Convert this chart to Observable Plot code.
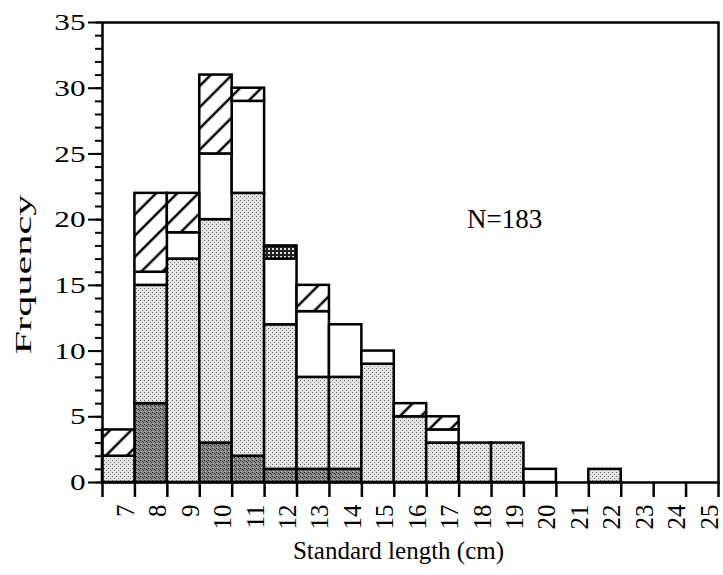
<!DOCTYPE html>
<html>
<head>
<meta charset="utf-8">
<script src="https://cdn.jsdelivr.net/npm/d3@7"></script>
<script src="https://cdn.jsdelivr.net/npm/@observablehq/plot@0.6"></script>
<style>
  html, body { margin: 0; padding: 0; background: #fff; }
  g[aria-label="y-axis tick label"] text { font-size: 24px; }
</style>
</head>
<body>
<div id="chart"></div>
<script>
// Bin lower edges (cm); each bin is 1 cm wide
const binStart = [6, 7, 8, 9, 10, 11, 12, 13, 14, 15, 16, 17, 18, 19, 20, 21];
// Stacked series (bottom to top)
const darkGray    = [0, 6, 0, 3, 2, 1, 1, 1, 0, 0, 0, 0, 0, 0, 0, 0];
const stippled    = [2, 9, 17, 17, 20, 11, 7, 7, 9, 5, 3, 3, 3, 0, 0, 1];
const plainWhite  = [0, 1, 2, 5, 7, 5, 5, 4, 1, 0, 1, 0, 0, 1, 0, 0];
const hatched     = [2, 6, 3, 6, 1, 0, 2, 0, 0, 1, 1, 0, 0, 0, 0, 0];
const crossHatch  = [0, 0, 0, 0, 0, 1, 0, 0, 0, 0, 0, 0, 0, 0, 0, 0];
// Axis ticks and labels
const xTicks = d3.range(6, 26);
const xTickLabels = [7, 8, 9, 10, 11, 12, 13, 14, 15, 16, 17, 18, 19, 20, 21, 22, 23, 24, 25];
const yMajorTicks = [0, 5, 10, 15, 20, 25, 30, 35];
const yMinorTicks = d3.range(0, 36);
const xLabel = "Standard length (cm)";
const yLabel = "Frquency";
const annotation = "N=183";

const layers = [
  {values: darkGray, fill: "url(#pDark)"},
  {values: stippled, fill: "url(#pStipple)"},
  {values: plainWhite, fill: "white"},
  {values: hatched, fill: "url(#pHatch)"},
  {values: crossHatch, fill: "url(#pCross)"}
];

const cum = binStart.map(() => 0);
const layerRows = layers.map(layer => {
  const rows = [];
  binStart.forEach((b, i) => {
    const v = layer.values[i];
    if (v > 0) rows.push({x1: b, x2: b + 1, y1: cum[i], y2: cum[i] + v});
    cum[i] += v;
  });
  return rows;
});

const chart = Plot.plot({
  width: 723,
  height: 575,
  marginLeft: 102,
  marginRight: 5,
  marginTop: 22,
  marginBottom: 93,
  x: {domain: [6, 25]},
  y: {domain: [0, 35]},
  style: {fontFamily: "'Liberation Serif', 'Times New Roman', serif", fontSize: "24px", color: "black", background: "white"},
  marks: [
    ...layers.map((layer, k) => Plot.rect(layerRows[k], {
      x1: "x1", x2: "x2", y1: "y1", y2: "y2",
      fill: layer.fill, stroke: "black", strokeWidth: 2.5
    })),
    Plot.frame({stroke: "black", strokeWidth: 2.5}),
    Plot.axisY({ticks: yMinorTicks, tickSize: 7, tickFormat: () => "", label: null, strokeWidth: 2, ariaLabel: "y-axis minor"}),
    Plot.axisY({ticks: yMajorTicks, tickSize: 14, tickPadding: 3, label: null, strokeWidth: 2}),
    Plot.axisX({ticks: xTicks, tickSize: 15, tickFormat: () => "", label: null, strokeWidth: 2.5}),
    Plot.text(xTickLabels, {x: d => d, y: 0, text: d => String(d), rotate: -90, textAnchor: "end", lineAnchor: "middle", dx: -9, dy: 22, fontSize: 25}),
    Plot.text([xLabel], {frameAnchor: "bottom", text: d => d, textAnchor: "middle", dx: -12, dy: 76, fontSize: 25}),
    Plot.text([yLabel], {frameAnchor: "left", text: d => d, rotate: -90, textAnchor: "middle", dx: -79, dy: 22, fontSize: 23}),
    Plot.text([annotation], {x: [18.4], y: [20], text: () => annotation, fontSize: 27})
  ]
});

const svg = chart.tagName.toLowerCase() === "svg" ? chart : chart.querySelector("svg");
const ns = "http://www.w3.org/2000/svg";
const defs = document.createElementNS(ns, "defs");
defs.innerHTML = `
  <pattern id="pStipple" patternUnits="userSpaceOnUse" width="4" height="4">
    <rect width="4" height="4" fill="#e4e4e4"/>
    <rect x="0" y="0" width="1" height="1" fill="#666"/>
    <rect x="2" y="2" width="1" height="1" fill="#888"/>
  </pattern>
  <pattern id="pDark" patternUnits="userSpaceOnUse" width="4" height="4">
    <rect width="4" height="4" fill="#858585"/>
    <rect x="0" y="0" width="1" height="1" fill="#222"/>
    <rect x="2" y="1" width="1" height="1" fill="#333"/>
    <rect x="1" y="3" width="1" height="1" fill="#bbb"/>
    <rect x="3" y="2" width="1" height="1" fill="#444"/>
  </pattern>
  <pattern id="pHatch" patternUnits="userSpaceOnUse" width="15" height="15" patternTransform="rotate(45)">
    <rect width="15" height="15" fill="white"/>
    <line x1="7" y1="0" x2="7" y2="15" stroke="black" stroke-width="2.5"/>
  </pattern>
  <pattern id="pCross" patternUnits="userSpaceOnUse" width="4" height="4">
    <rect width="4" height="4" fill="#222"/>
    <rect x="0" y="0" width="2" height="2" fill="#ddd"/>
  </pattern>`;
svg.insertBefore(defs, svg.firstChild);
document.getElementById("chart").appendChild(chart);

// The scanned original shows horizontally widened y tick digits and a long y label
svg.querySelectorAll('g[aria-label="y-axis tick label"] text').forEach(t => {
  const w = t.getComputedTextLength();
  t.setAttribute("textLength", (w * 1.3).toFixed(1));
  t.setAttribute("lengthAdjust", "spacingAndGlyphs");
});
svg.querySelectorAll("text").forEach(t => {
  if (t.textContent === yLabel) {
    t.setAttribute("textLength", "160");
    t.setAttribute("lengthAdjust", "spacingAndGlyphs");
  }
});
</script>
</body>
</html>
